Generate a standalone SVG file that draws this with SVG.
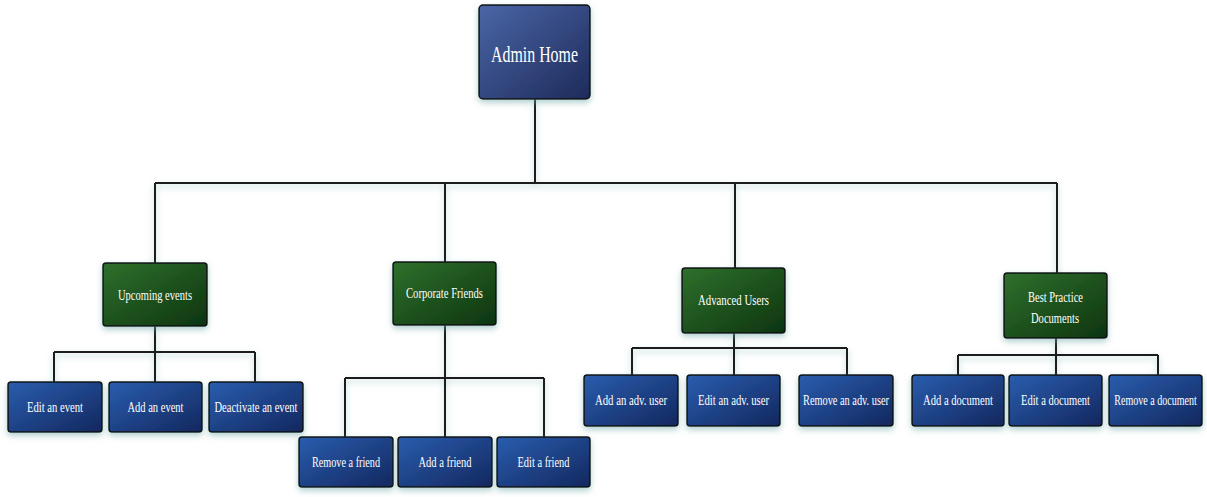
<svg xmlns="http://www.w3.org/2000/svg" width="1207" height="497" viewBox="0 0 1207 497">
<defs>
<linearGradient id="gAdmin" x1="0" y1="0" x2="1" y2="1">
<stop offset="0" stop-color="#4a66a6"/><stop offset="1" stop-color="#1e2a5a"/>
</linearGradient>
<linearGradient id="gBlue" x1="0" y1="0" x2="1" y2="1">
<stop offset="0" stop-color="#2a5dae"/><stop offset="1" stop-color="#13275e"/>
</linearGradient>
<linearGradient id="gGreen" x1="0" y1="0" x2="1" y2="1">
<stop offset="0" stop-color="#2f702c"/><stop offset="1" stop-color="#0d3410"/>
</linearGradient>
<filter id="sh" x="-20%" y="-20%" width="140%" height="150%">
<feDropShadow dx="0" dy="3" stdDeviation="3" flood-color="#6fa8a8" flood-opacity="0.55"/>
</filter>
</defs>
<style>
.box{stroke:#111;stroke-width:1.5;filter:url(#sh)}
.admin{fill:url(#gAdmin)}
.blue{fill:url(#gBlue)}
.green{fill:url(#gGreen)}
text{font-family:"Liberation Serif","DejaVu Serif",serif;fill:#fff;text-anchor:middle}
.t13{font-size:15px}
.t21{font-size:24px}
#connectors path{stroke:#1a1a1a;stroke-width:2;fill:none;filter:url(#sh)}
</style>
<rect width="1207" height="497" fill="#fff"/>
<g id="connectors">
<path d="M535 99V183M155 183H1057M155 183V263M445 183V262M735 183V268M1057 183V273"/>
<path d="M155 326V352M54 352H255M54 352V382M155 352V382M255 352V382"/>
<path d="M445 325V378M345 378H544M345 378V437M445 378V437M544 378V437"/>
<path d="M734 333V348M632 348H847M632 348V375M734 348V375M847 348V375"/>
<path d="M1056 338V355M958 355H1158M958 355V375M1056 355V375M1158 355V375"/>
</g>
<g id="admin-home"><rect class="box admin" x="479" y="5" width="111" height="94" rx="4"/><text class="t21" x="534.5" y="62" textLength="87" lengthAdjust="spacingAndGlyphs">Admin Home</text></g>
<g id="upcoming-events"><rect class="box green" x="103" y="263" width="104" height="63" rx="3"/><text class="t13" x="155" y="300" textLength="74" lengthAdjust="spacingAndGlyphs">Upcoming events</text></g>
<g id="corporate-friends"><rect class="box green" x="393" y="262" width="103" height="63" rx="3"/><text class="t13" x="444.5" y="298" textLength="77" lengthAdjust="spacingAndGlyphs">Corporate Friends</text></g>
<g id="advanced-users"><rect class="box green" x="682" y="268" width="103" height="65" rx="3"/><text class="t13" x="733.5" y="305" textLength="71" lengthAdjust="spacingAndGlyphs">Advanced Users</text></g>
<g id="best-practice"><rect class="box green" x="1004" y="273" width="103" height="65" rx="3"/><text class="t13" x="1055.5" y="302" textLength="55" lengthAdjust="spacingAndGlyphs">Best Practice</text><text class="t13" x="1055" y="323" textLength="48" lengthAdjust="spacingAndGlyphs">Documents</text></g>
<g id="edit-event"><rect class="box blue" x="8" y="382" width="94" height="50" rx="3"/><text class="t13" x="55" y="412" textLength="56" lengthAdjust="spacingAndGlyphs">Edit an event</text></g>
<g id="add-event"><rect class="box blue" x="109" y="382" width="93" height="50" rx="3"/><text class="t13" x="155.5" y="412" textLength="56" lengthAdjust="spacingAndGlyphs">Add an event</text></g>
<g id="deactivate-event"><rect class="box blue" x="209" y="382" width="94" height="50" rx="3"/><text class="t13" x="256" y="412" textLength="83" lengthAdjust="spacingAndGlyphs">Deactivate an event</text></g>
<g id="remove-friend"><rect class="box blue" x="299" y="437" width="94" height="50" rx="3"/><text class="t13" x="346" y="467" textLength="68" lengthAdjust="spacingAndGlyphs">Remove a friend</text></g>
<g id="add-friend"><rect class="box blue" x="398" y="437" width="94" height="50" rx="3"/><text class="t13" x="445" y="467" textLength="53" lengthAdjust="spacingAndGlyphs">Add a friend</text></g>
<g id="edit-friend"><rect class="box blue" x="497" y="437" width="93" height="50" rx="3"/><text class="t13" x="543.5" y="467" textLength="52" lengthAdjust="spacingAndGlyphs">Edit a friend</text></g>
<g id="add-adv-user"><rect class="box blue" x="584" y="375" width="94" height="51" rx="3"/><text class="t13" x="631" y="405" textLength="72" lengthAdjust="spacingAndGlyphs">Add an adv. user</text></g>
<g id="edit-adv-user"><rect class="box blue" x="687" y="375" width="93" height="51" rx="3"/><text class="t13" x="733.5" y="405" textLength="71" lengthAdjust="spacingAndGlyphs">Edit an adv. user</text></g>
<g id="remove-adv-user"><rect class="box blue" x="799" y="375" width="94" height="51" rx="3"/><text class="t13" x="846" y="405" textLength="86" lengthAdjust="spacingAndGlyphs">Remove an adv. user</text></g>
<g id="add-document"><rect class="box blue" x="912" y="375" width="92" height="51" rx="3"/><text class="t13" x="958" y="405" textLength="70" lengthAdjust="spacingAndGlyphs">Add a document</text></g>
<g id="edit-document"><rect class="box blue" x="1009" y="375" width="93" height="51" rx="3"/><text class="t13" x="1055.5" y="405" textLength="69" lengthAdjust="spacingAndGlyphs">Edit a document</text></g>
<g id="remove-document"><rect class="box blue" x="1109" y="375" width="93" height="51" rx="3"/><text class="t13" transform="translate(1155.5 405) scale(0.67 1)" x="0" y="0">Remove a document</text></g>
</svg>
